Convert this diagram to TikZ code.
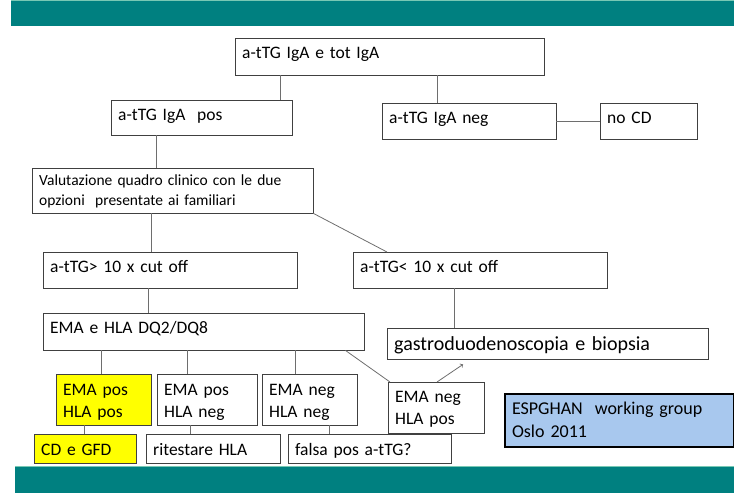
\documentclass[tikz,border=0pt]{standalone}
\usepackage{fontspec}
\setmainfont{Carlito}
\usepackage{tikz}
\usepackage{xcolor}
\definecolor{barteal}{RGB}{0, 128, 128}
\definecolor{barlight}{RGB}{120, 200, 180}
\definecolor{boxline}{RGB}{64, 64, 64}
\definecolor{linkgray}{RGB}{110, 110, 110}
\definecolor{hiyellow}{RGB}{255, 255, 0}
\definecolor{notebluefill}{RGB}{168, 200, 238}

\tikzset{
  fbox/.style={draw=boxline, anchor=north west, inner xsep=7pt, inner ysep=0pt,
    align=left, text height=20pt, font=\fontsize{17.5}{22}\selectfont},
  link/.style={draw=linkgray, line width=0.8pt}
}

\begin{document}
\begin{tikzpicture}[x=1pt, y=-1pt]
    \useasboundingbox (0,0) rectangle (734,499);

    % Bars
    \fill[barteal] (11,1) rectangle (734,26);
    \draw[barlight] (11,0.5) -- (734,0.5);
    \fill[barteal] (15,466) rectangle (734,493);
    \draw[barlight] (15,466.5) -- (734,466.5);

    % First test
    \node[fbox, text width=295pt, text depth=17pt] (start) at (235,38) {a-tTG IgA e tot IgA};
    \node[fbox, text width=167pt, text depth=15pt] (pos) at (111,100) {a-tTG IgA\ \ pos};
    \node[fbox, text width=160pt, text depth=16pt] (neg) at (382,103) {a-tTG IgA neg};
    \node[fbox, text width=83pt, text depth=16pt] (nocd) at (600,103) {no CD};
    \draw[link] ([xshift=45pt]start.south west) -- ([xshift=169pt]pos.north west);
    \draw[link] ([xshift=202pt]start.south west) -- ([xshift=55pt]neg.north west);
    \draw[link] (neg.east) -- (nocd.west);

    % Clinical evaluation
    \node[fbox, text width=267pt, text height=17pt, text depth=28pt,
      font=\fontsize{15.5}{20}\selectfont] (val) at (32,168)
      {Valutazione quadro clinico con le due\\opzioni\ \ presentate ai familiari};
    \draw[link] ([xshift=45pt]pos.south west) -- ([xshift=124pt]val.north west);

    % Cut off
    \node[fbox, text width=240pt, text depth=16pt] (high) at (43,252) {a-tTG> 10 x cut off};
    \node[fbox, text width=240pt, text depth=16pt] (low) at (353,252) {a-tTG< 10 x cut off};
    \draw[link] ([xshift=119pt]val.south west) -- ([xshift=108pt]high.north west);
    \draw[link] (val.south east) -- ([xshift=34pt]low.north west);

    % EMA and HLA
    \node[fbox, text width=307pt, text depth=17pt] (ema) at (43,313) {EMA e HLA DQ2/DQ8};
    \node[fbox, text width=307pt, text height=22pt, text depth=9pt,
      font=\fontsize{20}{24}\selectfont] (gastro) at (387,328) {gastroduodenoscopia e biopsia};
    \draw[link] ([xshift=105pt]high.south west) -- ([xshift=105pt]ema.north west);
    \draw[link] ([xshift=101pt]low.south west) -- ([xshift=67pt]gastro.north west);

    % Results
    \node[fbox, fill=hiyellow, text width=81pt, text height=21pt, text depth=30pt] (r1) at (56,374) {EMA pos\\HLA pos};
    \node[fbox, text width=86pt, text height=21pt, text depth=30pt] (r2) at (157,374) {EMA pos\\HLA neg};
    \node[fbox, text width=81pt, text height=21pt, text depth=30pt] (r3) at (262,374) {EMA neg\\HLA neg};
    \node[fbox, text width=82pt, text depth=31pt] (r4) at (388,382) {EMA neg\\HLA pos};
    \draw[link] ([xshift=58pt]ema.south west) -- ([xshift=45pt]r1.north west);
    \draw[link] ([xshift=144pt]ema.south west) -- ([xshift=30pt]r2.north west);
    \draw[link] ([xshift=252pt]ema.south west) -- ([xshift=33pt]r3.north west);
    \draw[link] ([xshift=-19pt]ema.south east) -- ([xshift=2pt]r4.north west);
    \draw[link, ->] ([xshift=49pt]r4.north west) -- ([shift={(76pt,-5pt)}]gastro.south west);

    % Outcome
    \node[fbox, fill=hiyellow, text width=88pt, text height=21pt, text depth=8pt] (cd) at (34,434) {CD e GFD};
    \node[fbox, text width=120pt, text height=21pt, text depth=8pt] (ret) at (146,434) {ritestare HLA};
    \node[fbox, text width=149pt, text height=21pt, text depth=8pt] (fal) at (288,434) {falsa pos a-tTG?};
    \draw[link] ([xshift=28pt]r1.south west) -- ([xshift=50pt]cd.north west);
    \draw[link] ([xshift=33pt]r2.south west) -- ([xshift=44pt]ret.north west);
    \draw[link] ([xshift=67pt]r3.south west) -- ([xshift=41pt]fal.north west);

    % Source
    \node[fbox, draw=black, line width=2pt, fill=notebluefill, text width=215pt, text depth=33pt,
      font=\fontsize{18}{23}\selectfont] (esp) at (504,393) {ESPGHAN\ \ working group\\Oslo 2011};
\end{tikzpicture}
\end{document}
